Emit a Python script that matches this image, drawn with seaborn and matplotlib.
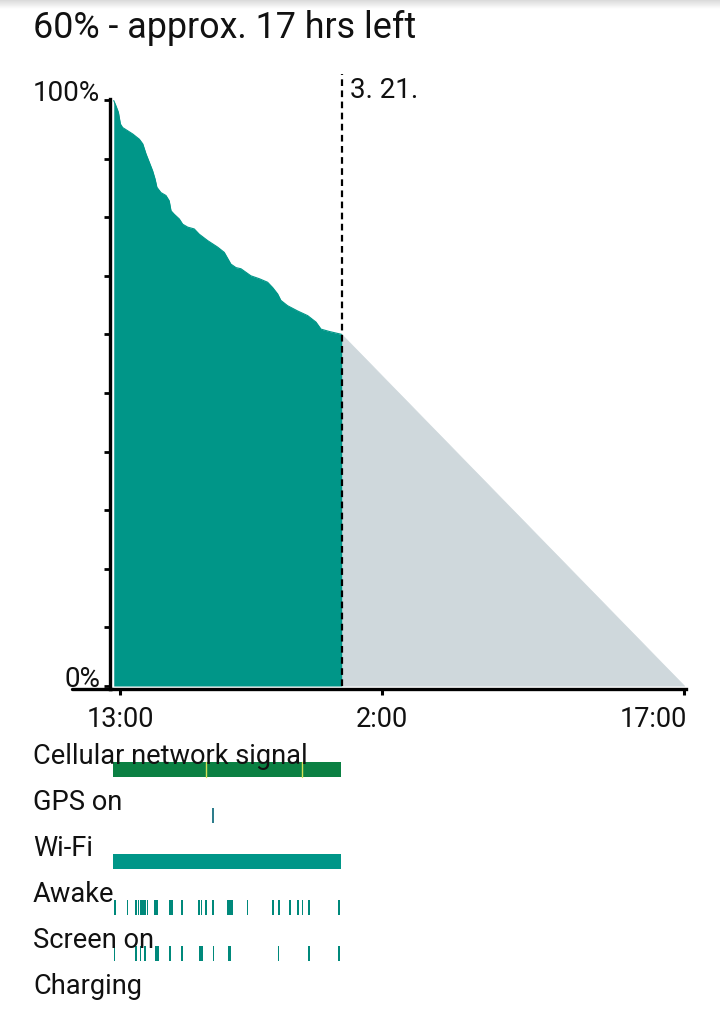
import numpy as np
import pandas as pd
import matplotlib
matplotlib.use("Agg")
import matplotlib.pyplot as plt
import seaborn as sns
from matplotlib.lines import Line2D
import matplotlib.transforms as mtransforms

# ---------------- data ----------------
title = "60% - approx. 17 hrs left"
date_label = "3. 21."

# battery history: hours since previous midnight (24 = 00:00 of 3.21)
battery_hours = [12.69, 12.80, 12.92, 13.02, 13.13, 13.63, 13.96, 14.13, 14.29, 14.45,
                 14.62, 14.74, 14.83, 15.03, 15.28, 15.44, 15.53, 15.69, 15.94, 16.11,
                 16.36, 16.68, 16.93, 17.35, 17.84, 18.17, 18.50, 18.75, 19.00, 19.49,
                 19.91, 20.32, 20.57, 20.82, 20.98, 21.31, 21.81, 22.31, 22.72, 22.97,
                 23.38, 24.00]
battery_pct = [99.9, 99.0, 97.9, 95.9, 95.3, 94.2, 93.3, 92.5, 90.8, 89.4,
               87.9, 86.5, 85.1, 84.2, 83.7, 82.8, 81.1, 80.5, 79.7, 78.8,
               78.3, 78.0, 77.1, 76.0, 74.9, 74.0, 72.0, 71.4, 71.2, 70.0,
               69.5, 68.9, 68.0, 66.9, 65.8, 64.9, 64.0, 63.2, 62.1, 60.9,
               60.5, 60.0]
now_hour = 24.0
projection_hours = [24.0, 41.0]
projection_pct = [60.0, 0.0]

x_ticks = [13, 26, 41]
x_tick_labels = ["13:00", "2:00", "17:00"]
y_ticks = [0, 10, 20, 30, 40, 50, 60, 70, 80, 90, 100]
y_tick_labels = ["0%", "", "", "", "", "", "", "", "", "", "100%"]

row_labels = ["Cellular network signal", "GPS on", "Wi-Fi", "Awake", "Screen on", "Charging"]
cell_segments = [(12.67, 23.96)]
cell_marks = [17.26, 22.02]
gps_events = [(17.57, 17.64)]
wifi_segments = [(12.67, 23.96)]
awake_events = [(12.68, 12.81), (13.34, 13.42), (13.75, 13.83), (13.87, 13.95), (13.97, 14.05),
                (14.06, 14.13), (14.14, 14.22), (14.22, 14.29), (14.33, 14.41), (14.70, 14.90),
                (15.44, 15.61), (16.03, 16.11), (16.89, 16.97), (17.01, 17.09), (17.22, 17.30),
                (17.56, 17.64), (18.33, 18.41), (18.43, 18.51), (18.51, 18.59), (19.29, 19.37),
                (20.56, 20.64), (20.86, 20.94), (21.40, 21.48), (21.80, 21.88), (22.02, 22.10),
                (22.32, 22.40), (23.83, 23.91)]
screen_events = [(12.68, 12.76), (13.75, 13.83), (13.97, 14.05), (14.21, 14.29), (14.74, 14.95),
                 (15.45, 15.53), (16.03, 16.11), (16.93, 17.01), (17.03, 17.11), (17.59, 17.67),
                 (18.34, 18.50), (20.83, 20.91), (22.35, 22.43), (23.83, 23.91)]
charging_events = []

# ---------------- style ----------------
GREEN = "#009688"
GRAY = "#CFD8DC"
CELL = "#0B8043"
MARK = "#D4E157"
TICKC = "#00897B"
GPSC = "#2E7D8C"
TXT = "#111111"

sns.set_theme(style="white")
plt.rcParams["font.family"] = ["Roboto", "DejaVu Sans"]

W, H = 720, 1012
fig = plt.figure(figsize=(W / 100, H / 100), dpi=100)

def fx(px):
    return px / W

def fy(py):
    return 1 - py / H

# top shadow
axs = fig.add_axes([0, fy(10), 1, 10 / H])
grad = np.linspace(0, 1, 50).reshape(-1, 1)
axs.imshow(grad, aspect="auto", cmap=matplotlib.colors.LinearSegmentedColormap.from_list(
    "sh", ["#d6d6d6", "#ffffff"]), extent=[0, 1, 0, 1], origin="upper")
axs.axis("off")

# ---------------- main chart ----------------
ax = fig.add_axes([fx(110), fy(690), fx(686) - fx(110), fy(100) - fy(690)])
df_b = pd.DataFrame({"hour": battery_hours, "pct": battery_pct})
df_p = pd.DataFrame({"hour": projection_hours, "pct": projection_pct})
sns.lineplot(data=df_p, x="hour", y="pct", ax=ax, color=GRAY, lw=0.5)
ax.fill_between(df_p["hour"], 0, df_p["pct"], color=GRAY, lw=0)
sns.lineplot(data=df_b, x="hour", y="pct", ax=ax, color=GREEN, lw=0.8)
ax.fill_between(df_b["hour"], 0, df_b["pct"], color=GREEN, lw=0)

ax.set_xlim(12.504, 41.075)
ax.set_ylim(-0.51, 100.17)
ax.set_xlabel("")
ax.set_ylabel("")
ax.set_xticks(x_ticks)
ax.set_xticklabels(x_tick_labels)
ax.set_yticks(y_ticks)
ax.set_yticklabels(y_tick_labels)
for lab in ax.get_yticklabels():
    lab.set_verticalalignment("baseline")
ax.tick_params(axis="x", direction="out", length=4.5, width=2.2, color="black",
               labelsize=19.5, pad=7, labelcolor=TXT, bottom=True)
ax.tick_params(axis="y", direction="out", length=4.5, width=2.0, color="black",
               labelsize=20, pad=2.5, labelcolor=TXT, left=True)
xl = ax.get_xticklabels()
xl[-1].set_horizontalalignment("right")
xl[-1].set_transform(xl[-1].get_transform() + mtransforms.ScaledTranslation(3 / 100, 0, fig.dpi_scale_trans))
for s in ["top", "right"]:
    ax.spines[s].set_visible(False)
for s in ["left", "bottom"]:
    ax.spines[s].set_color("black")
    ax.spines[s].set_linewidth(2.4)

# extend the baseline to the left
fig.add_artist(Line2D([fx(72), fx(112)], [fy(690), fy(690)], color="black", lw=2.4))

# now marker
ax.axvline(now_hour, ymin=3 / 590, ymax=(690 - 75) / 590, clip_on=False, color="black",
           lw=1.6, ls=(0, (3.0, 2.0)))
trans = mtransforms.blended_transform_factory(ax.transData, ax.transAxes)
ax.text(now_hour + 0.42, (690 - 98) / 590, date_label, transform=trans, fontsize=20,
        va="baseline", ha="left", color=TXT)

fig.text(fx(33), fy(38), title, fontsize=25.8, va="baseline", ha="left", color=TXT)

# ---------------- event rows ----------------
row_h = 46
ax2 = fig.add_axes([fx(110), fy(747 + row_h * 6), fx(686) - fx(110), row_h * 6 / H])
ax2.set_xlim(ax.get_xlim())
ax2.set_ylim(5.5, -0.5)
ax2.axis("off")
bh = 15 / row_h

def draw_row(i, events, color):
    for s, e in events:
        ax2.barh(i, e - s, left=s, height=bh, color=color, lw=0)

draw_row(0, cell_segments, CELL)
for m in cell_marks:
    ax2.plot([m, m], [0 - bh / 2, 0 + bh / 2], color=MARK, lw=1.0)
draw_row(1, gps_events, GPSC)
draw_row(2, wifi_segments, GREEN)
draw_row(3, awake_events, TICKC)
draw_row(4, screen_events, TICKC)
draw_row(5, charging_events, TICKC)

trans2 = mtransforms.blended_transform_factory(fig.transFigure, ax2.transData)
for i, lab in enumerate(row_labels):
    ax2.text(fx(33), i - 6 / row_h, lab, transform=trans2, fontsize=19.6, va="baseline",
             ha="left", color=TXT, clip_on=False)

fig.savefig("out.png", dpi=100)
